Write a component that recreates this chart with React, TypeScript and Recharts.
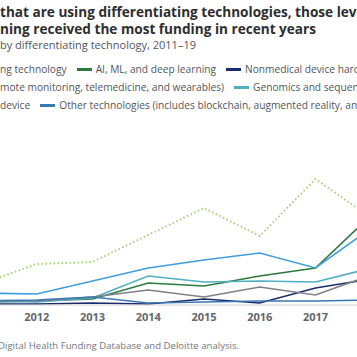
import React from 'react';
import { LineChart, Line, XAxis, YAxis } from 'recharts';

const years = ['2011', '2012', '2013', '2014', '2015', '2016', '2017', '2018', '2019'];

// funding (relative units)
const notUsing = [2.1, 4.1, 4.3, 7.0, 9.7, 6.9, 12.6, 8.7, 9.5];
const aiMl = [0.3, 0.4, 0.6, 2.2, 1.9, 2.9, 3.7, 9.0, 12.0];
const nonmedical = [0.1, 0.1, 0.2, 0.1, 0.6, 0.2, 1.7, 2.6, 3.0];
const connected = [1.2, 1.1, 2.4, 3.7, 4.5, 5.2, 3.7, 7.7, 9.0];
const genomics = [0.4, 0.3, 0.7, 2.9, 2.3, 2.4, 2.3, 3.7, 4.5];
const medical = [0.4, 0.4, 0.8, 1.5, 0.8, 1.8, 1.0, 3.0, 3.5];
const other = [0.4, 0.5, 0.8, 0.2, 0.3, 0.4, 0.4, 0.5, 0.6];

const series = [
  { key: 'notUsing', name: 'Not using differentiating technology', values: notUsing, color: '#A6D27A', dotted: true },
  { key: 'aiMl', name: 'AI, ML, and deep learning', values: aiMl, color: '#2D7A3F' },
  { key: 'nonmedical', name: 'Nonmedical device hardware', values: nonmedical, color: '#1A2C6B' },
  { key: 'connected', name: 'Connected health (remote monitoring, telemedicine, and wearables)', values: connected, color: '#3F9EDD' },
  { key: 'genomics', name: 'Genomics and sequencing', values: genomics, color: '#4DB1C4' },
  { key: 'medical', name: 'Medical device', values: medical, color: '#808086' },
  { key: 'other', name: 'Other technologies (includes blockchain, augmented reality, and others)', values: other, color: '#3A78B3' },
];

const data = years.map((year, i) => {
  const row: Record<string, string | number> = { year };
  series.forEach(s => { row[s.key] = s.values[i]; });
  return row;
});

const font = '"Open Sans", sans-serif';
const textGray = '#53565A';

const LegendItem = ({ color, label }: { color: string; label: string }) => (
  <span style={{ display: 'inline-flex', alignItems: 'center', marginRight: 10, whiteSpace: 'nowrap' }}>
    <span style={{ display: 'inline-block', width: 15, height: 3, background: color, marginRight: 4 }} />
    {label}
  </span>
);

const rowStyle: React.CSSProperties = { display: 'flex', alignItems: 'center', height: 18 };

const App: React.FC = () => {
  const s = (k: string) => series.find(x => x.key === k)!;
  return (
    <div style={{ position: 'fixed', left: 0, top: 0, width: 357, height: 357, overflow: 'hidden', background: '#fff', fontFamily: font }}>
      <div style={{ position: 'absolute', left: 0, top: 3, fontSize: 13.6, fontWeight: 700, color: '#2E2E2E', lineHeight: '17px', whiteSpace: 'nowrap' }}>
        <div>that are using differentiating technologies, those leveraging</div>
        <div>ning received the most funding in recent years</div>
      </div>
      <div style={{ position: 'absolute', left: 0, top: 37, fontSize: 11, color: textGray, whiteSpace: 'nowrap' }}>
        by differentiating technology, 2011–19
      </div>
      <div style={{ position: 'absolute', left: 0, top: 60, fontSize: 10.2, color: textGray, whiteSpace: 'nowrap' }}>
        <div style={rowStyle}>
          <span style={{ marginRight: 10 }}>ng technology</span>
          <LegendItem color={s('aiMl').color} label={s('aiMl').name} />
          <LegendItem color={s('nonmedical').color} label={s('nonmedical').name} />
        </div>
        <div style={rowStyle}>
          <span style={{ marginRight: 10 }}>mote monitoring, telemedicine, and wearables)</span>
          <LegendItem color={s('genomics').color} label={s('genomics').name} />
        </div>
        <div style={rowStyle}>
          <span style={{ marginRight: 10 }}>device</span>
          <LegendItem color={s('other').color} label={s('other').name} />
        </div>
      </div>
      <div style={{ position: 'absolute', left: -19, top: 145 }}>
        <LineChart width={446} height={190} data={data} margin={{ top: 0, right: 0, bottom: 0, left: 0 }}>
          <XAxis
            dataKey="year"
            axisLine={{ stroke: '#D0D0D0' }}
            tickLine={false}
            tick={{ fill: '#63666A', fontSize: 11, fontWeight: 700, fontFamily: font }}
            interval={0}
          />
          <YAxis hide domain={[0, 16]} />
          {series.map(sr => (
            <Line
              key={sr.key}
              dataKey={sr.key}
              name={sr.name}
              stroke={sr.color}
              strokeWidth={sr.dotted ? 2 : 1.6}
              strokeDasharray={sr.dotted ? '1.5 2.5' : undefined}
              dot={false}
              isAnimationActive={false}
            />
          ))}
        </LineChart>
      </div>
      <div style={{ position: 'absolute', left: -2, top: 339, fontSize: 9.6, color: '#75787B', whiteSpace: 'nowrap' }}>
        Digital Health Funding Database and Deloitte analysis.
      </div>
    </div>
  );
};

export default App;
